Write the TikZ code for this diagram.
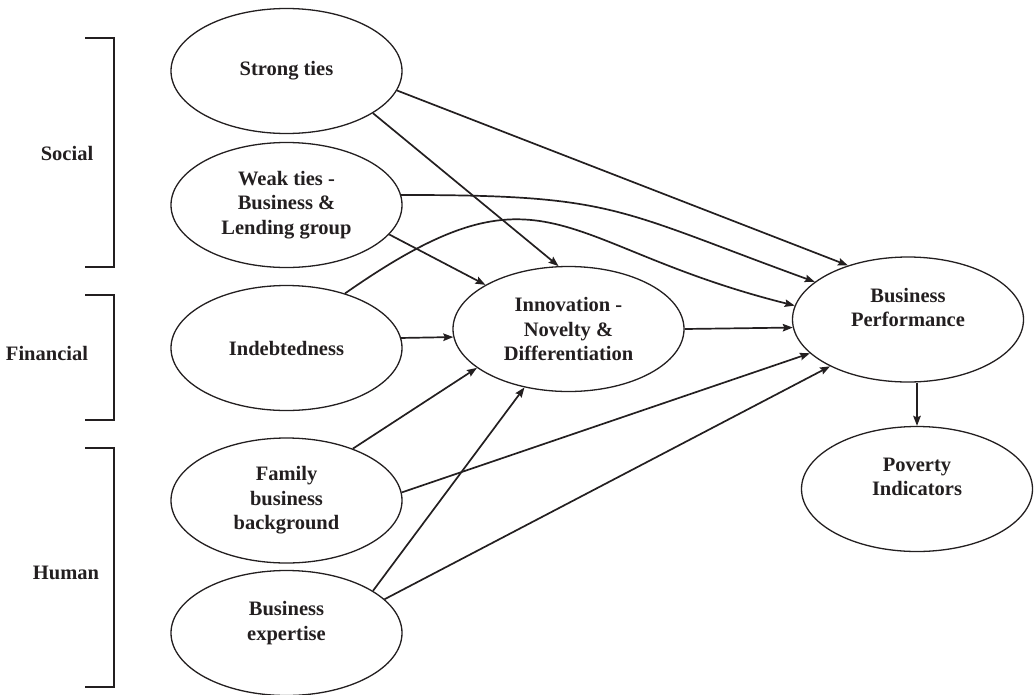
\documentclass[tikz,border=0pt]{standalone}
\usepackage{fontspec}
\setmainfont{Liberation Serif}
\usetikzlibrary{shapes.geometric,arrows.meta}
\definecolor{ink}{RGB}{35,31,32}

\begin{document}
\begin{tikzpicture}[x=1pt,y=-1pt,color=ink,
  construct/.style={ellipse, draw, line width=1.3pt, minimum width=231pt,
    minimum height=125pt, inner sep=0pt, align=center,
    font=\fontsize{20.5}{24.5}\selectfont\bfseries},
  group/.style={font=\fontsize{20.5}{24.5}\selectfont\bfseries},
  effect/.style={-{Stealth[length=10pt,width=7.5pt,inset=1.5pt]}, line width=1.7pt}]
  \useasboundingbox(0,0)rectangle(1034,694);
  % capital brackets
  \draw[line width=1.6pt](85,38)--(114,38)--(114,267)--(85,267);
  \draw[line width=1.6pt](85,295)--(114,295)--(114,420)--(85,420);
  \draw[line width=1.6pt](85,448)--(114,448)--(114,687)--(85,687);
  \node[group](soc) at (67,153){Social};
  \node[group](fin) at (47,353){Financial};
  \node[group](hum) at (66,573){Human};
  % constructs
  \node[construct](st) at (286.5,71){Strong ties};
  \node[construct](wt) at (286.5,205){Weak ties -\\Business \&\\Lending group};
  \node[construct](ind) at (286.5,348){Indebtedness};
  \node[construct](fam) at (286.5,500.5){Family\\business\\background};
  \node[construct](exp) at (286.5,633){Business\\expertise\\~};
  \node[construct](inn) at (568.5,329){Innovation -\\Novelty \&\\Differentiation};
  \node[construct](bp) at (908,319.5){Business\\Performance\\~};
  \node[construct](pov) at (917,489){Poverty\\Indicators\\~};
  % effects
  \draw[effect](st.-10.3)--(bp.138.3);
  \draw[effect](st.-26.2)--(inn.99.5);
  \draw[effect](wt.5)to[out=0, in=160, looseness=1.3](bp.158.4);
  \draw[effect](ind.43.2)to[out=35, in=166, looseness=1.4](bp.173.7);
  \draw[effect](wt.-16.1)--(inn.152.2);
  \draw[effect](ind.5)--(inn.184.4);
  \draw[effect](inn.east)--(bp.184.7);
  \draw[effect](fam.38.3)--(inn.203.1);
  \draw[effect](fam.4.7)--(bp.199.2);
  \draw[effect](exp.26.2)--(inn.233.1);
  \draw[effect](exp.19.4)--(bp.211.3);
  \draw[effect](bp.south -| pov.north)--(pov.north);
\end{tikzpicture}
\end{document}
